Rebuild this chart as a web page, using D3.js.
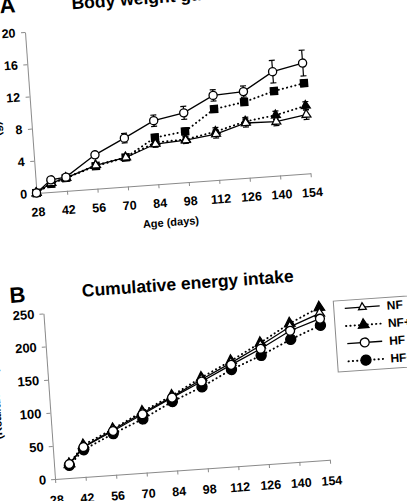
<!DOCTYPE html>
<html>
<head>
<meta charset="utf-8">
<script src="https://cdn.jsdelivr.net/npm/d3@7"></script>
<style>
  body { margin: 0; background: #fff; }
  svg { display: block; }
  text { font-family: Arial, "Liberation Sans", sans-serif; fill: #000; }
</style>
</head>
<body>
<div id="chart"></div>
<script>
// Data (panel A: body weight gain, panel B: cumulative intake)
const xTicks = [28, 42, 56, 70, 84, 98, 112, 126, 140, 154];
const yTicksA = [0, 4, 8, 12, 16, 20];
const yTicksB = [0, 50, 100, 150, 200, 250];
const seriesNames = ["NF", "NF+", "HF", "HF+"];

const daysA = [28, 35, 42, 56, 70, 84, 98, 112, 126, 140, 154];
const gainNF     = [0, 1.1, 1.6, 2.9, 3.6, 5.0, 5.2, 5.7, 6.8, 6.7, 7.3];
const gainNFplus = [0, 1.1, 1.6, 2.9, 3.6, 5.2, 5.3, 6.0, 7.0, 7.5, 8.4];
const gainHF     = [0, 1.5, 1.7, 4.2, 6.0, 7.9, 8.6, 10.5, 10.7, 12.9, 13.7];
const gainHFplus = [0, 1.0, 1.6, 2.8, 3.6, 5.8, 6.3, 8.8, 9.4, 10.5, 11.2];
const errNF      = [0, 0.1, 0.1, 0.2, 0.3, 0.4, 0.4, 0.5, 0.5, 0.5, 0.6];
const errNFplus  = [0, 0.1, 0.1, 0.2, 0.3, 0.4, 0.4, 0.5, 0.5, 0.5, 0.5];
const errHF      = [0, 0.2, 0.2, 0.3, 0.6, 0.7, 0.8, 0.7, 0.7, 1.4, 1.6];
const errHFplus  = [0, 0.1, 0.1, 0.2, 0.3, 0.4, 0.4, 0.4, 0.4, 0.4, 0.4];

const daysB = [35, 42, 56, 70, 84, 98, 112, 126, 140, 154];
const intakeNF     = [21, 45, 68, 90, 111, 134, 156, 179, 204, 221];
const intakeNFplus = [21, 48, 69, 92, 113, 137, 159, 183, 209, 230];
const intakeHF     = [21, 45, 66, 88, 110, 131, 153, 174, 198, 213];
const intakeHFplus = [19, 41, 62, 81, 104, 123, 146, 164, 185, 203];

const width = 407, height = 501;

const svg = d3.select("#chart").append("svg")
  .attr("width", width)
  .attr("height", height)
  .attr("viewBox", [0, 0, width, height]);

// marker styles per series (drawing order: filled first so open markers sit on top)
const styleA = {
  "NF":  { dotted: false, filled: false, shape: d3.symbolTriangle, size: 34 },
  "NF+": { dotted: true,  filled: true,  shape: d3.symbolTriangle, size: 34 },
  "HF":  { dotted: false, filled: false, shape: d3.symbolCircle,   size: 52 },
  "HF+": { dotted: true,  filled: true,  shape: d3.symbolSquare,   size: 50 }
};
const styleB = {
  "NF":  { dotted: false, filled: false, shape: d3.symbolTriangle, size: 40 },
  "NF+": { dotted: true,  filled: true,  shape: d3.symbolTriangle, size: 48 },
  "HF":  { dotted: false, filled: false, shape: d3.symbolCircle,   size: 62 },
  "HF+": { dotted: true,  filled: true,  shape: d3.symbolCircle,   size: 80 }
};
const drawOrder = ["NF+", "HF+", "NF", "HF"];

function panel(cfg) {
  // the scan is tilted, so each panel lives in a rotated frame
  const g = svg.append("g")
    .attr("transform", `translate(${cfg.ox},${cfg.oy}) rotate(${cfg.angle})`);

  const x = d3.scaleLinear([28, 154], [0, cfg.w]);
  const y = d3.scaleLinear([0, cfg.yMax], [0, -cfg.h]);

  // axes
  g.append("g")
    .call(d3.axisBottom(x).tickValues(xTicks).tickSize(4).tickSizeOuter(0).tickPadding(cfg.xPad))
    .call(a => a.selectAll("path, line").attr("stroke", "#8a8a8a"))
    .call(a => a.selectAll("text").attr("font-size", 12.5).attr("font-weight", "bold")
      .attr("font-family", "Arial, 'Liberation Sans', sans-serif").attr("fill", "#000"));

  g.append("g")
    .call(d3.axisLeft(y).tickValues(cfg.yTicks).tickSize(4).tickSizeOuter(0).tickPadding(cfg.yPad))
    .call(a => a.selectAll("path, line").attr("stroke", "#8a8a8a"))
    .call(a => a.selectAll("text").attr("font-size", cfg.yFont).attr("font-weight", "bold")
      .attr("font-family", "Arial, 'Liberation Sans', sans-serif").attr("fill", "#000"));

  const line = d3.line().x(d => x(d.day)).y(d => y(d.v));

  drawOrder.forEach(name => {
    const s = cfg.series[name];
    const st = cfg.style[name];
    const pts = cfg.days.map((day, i) => ({ day, v: s.values[i], e: s.errors ? s.errors[i] : 0 }));

    g.append("path")
      .datum(pts)
      .attr("fill", "none")
      .attr("stroke", "#000")
      .attr("stroke-width", st.dotted ? 1.9 : 1.3)
      .attr("stroke-linecap", st.dotted ? "round" : "butt")
      .attr("stroke-dasharray", st.dotted ? "0.3 4" : null)
      .attr("d", line);
  });

  drawOrder.forEach(name => {
    const s = cfg.series[name];
    const st = cfg.style[name];
    const pts = cfg.days.map((day, i) => ({ day, v: s.values[i], e: s.errors ? s.errors[i] : 0 }));

    if (s.errors) {
      const eb = g.append("g").attr("stroke", "#000").attr("stroke-width", 1.2);
      pts.filter(d => d.e > 0.15).forEach(d => {
        eb.append("line").attr("x1", x(d.day)).attr("x2", x(d.day))
          .attr("y1", y(d.v - d.e)).attr("y2", y(d.v + d.e));
        eb.append("line").attr("x1", x(d.day) - 3).attr("x2", x(d.day) + 3)
          .attr("y1", y(d.v + d.e)).attr("y2", y(d.v + d.e));
        eb.append("line").attr("x1", x(d.day) - 3).attr("x2", x(d.day) + 3)
          .attr("y1", y(d.v - d.e)).attr("y2", y(d.v - d.e));
      });
    }

    g.append("g").selectAll("path")
      .data(pts)
      .join("path")
      .attr("transform", d => `translate(${x(d.day)},${y(d.v)})`)
      .attr("d", d3.symbol(st.shape, st.size))
      .attr("fill", st.filled ? "#000" : "#fff")
      .attr("stroke", "#000")
      .attr("stroke-width", 1.3);
  });

  // panel letter and title
  g.append("text")
    .attr("x", cfg.letterPos[0]).attr("y", cfg.letterPos[1])
    .attr("font-size", 22).attr("font-weight", "bold")
    .text(cfg.letter);
  g.append("text")
    .attr("x", cfg.titlePos[0]).attr("y", cfg.titlePos[1])
    .attr("font-size", 17.5).attr("font-weight", "bold")
    .text(cfg.title);

  if (cfg.xLabel) {
    g.append("text")
      .attr("x", cfg.xLabelPos[0]).attr("y", cfg.xLabelPos[1])
      .attr("text-anchor", "middle")
      .attr("font-size", 11).attr("font-weight", "bold")
      .text(cfg.xLabel);
  }

  g.append("text")
    .attr("transform", `translate(${cfg.yLabelPos[0]},${cfg.yLabelPos[1]}) rotate(-90)`)
    .attr("text-anchor", "middle")
    .attr("font-size", 11.5).attr("font-weight", "bold")
    .text(cfg.yLabel);

  return g;
}

panel({
  ox: 36.5, oy: 193, angle: -4.1, w: 274.7, h: 161.4, yMax: 20,
  yTicks: yTicksA, xPad: 10.5, yPad: 5.5, yFont: 12.5,
  days: daysA,
  style: styleA,
  series: {
    "NF":  { values: gainNF, errors: errNF },
    "NF+": { values: gainNFplus, errors: errNFplus },
    "HF":  { values: gainHF, errors: errHF },
    "HF+": { values: gainHFplus, errors: errHFplus }
  },
  letter: "A", letterPos: [-23.5, -182],
  title: "Body weight gain", titlePos: [48.5, -180.7],
  xLabel: "Age (days)", xLabelPos: [132, 42.5],
  yLabel: "(g)", yLabelPos: [-31, -67]
});

const gB = panel({
  ox: 55, oy: 479, angle: -4.0, w: 275.5, h: 166, yMax: 250,
  yTicks: yTicksB, xPad: 12.5, yPad: 5, yFont: 13,
  days: daysB,
  style: styleB,
  series: {
    "NF":  { values: intakeNF },
    "NF+": { values: intakeNFplus },
    "HF":  { values: intakeHF },
    "HF+": { values: intakeHFplus }
  },
  letter: "B", letterPos: [-32.6, -178.7],
  title: "Cumulative energy intake", titlePos: [40, -180],
  xLabel: null,
  yLabel: "(Kcal/animal)", yLabelPos: [-49.5, -79.3]
});

// legend for panel B, in the same tilted frame
const legend = gB.append("g");
legend.append("rect")
  .attr("x", 290).attr("y", -158).attr("width", 110).attr("height", 71)
  .attr("fill", "#fff").attr("stroke", "#8a8a8a").attr("stroke-width", 1);

seriesNames.forEach((name, i) => {
  const st = styleB[name];
  const ly = -150 + i * 17.7;
  legend.append("line")
    .attr("x1", 301).attr("x2", 336).attr("y1", ly).attr("y2", ly)
    .attr("stroke", "#000")
    .attr("stroke-width", st.dotted ? 1.9 : 1.3)
    .attr("stroke-linecap", st.dotted ? "round" : "butt")
    .attr("stroke-dasharray", st.dotted ? "0.3 4" : null);
  legend.append("path")
    .attr("transform", `translate(318.5,${ly})`)
    .attr("d", d3.symbol(st.shape, name === "NF" ? 26 : st.size))
    .attr("fill", st.filled ? "#000" : "#fff")
    .attr("stroke", "#000").attr("stroke-width", 1.3);
  legend.append("text")
    .attr("x", 343).attr("y", ly).attr("dy", "0.35em")
    .attr("font-size", 12).attr("font-weight", "bold")
    .text(name);
});
</script>
</body>
</html>
